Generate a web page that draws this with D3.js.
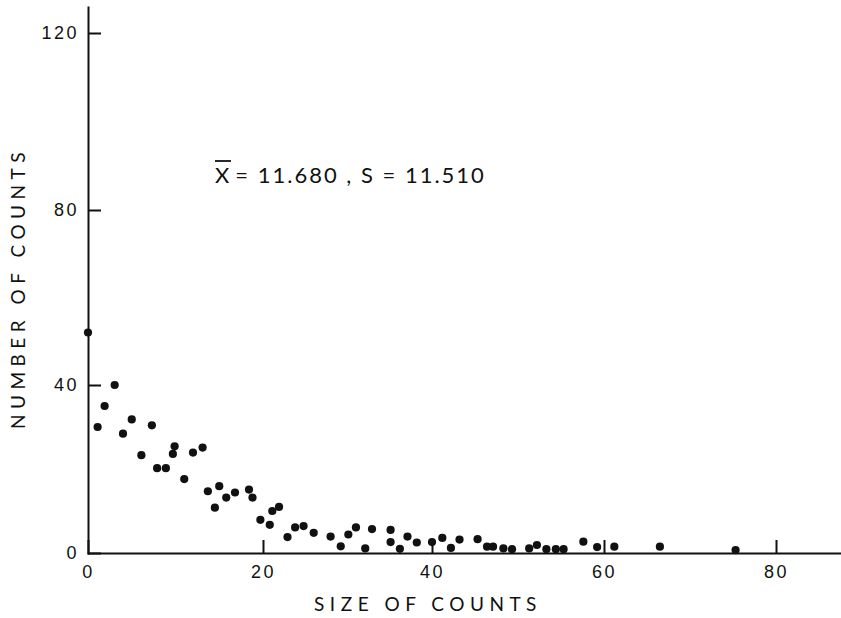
<!DOCTYPE html>
<html>
<head>
<meta charset="utf-8">
<script src="https://cdn.jsdelivr.net/npm/d3@7"></script>
<style>
  html, body { margin: 0; padding: 0; background: #fff; }
  svg { display: block; font-family: Lato, "DejaVu Sans", sans-serif; }
  .axis path, .axis line { stroke: #111; stroke-width: 2; }
  .axis text { font-size: 18px; fill: #111; letter-spacing: 2.5px; }
</style>
</head>
<body>
<svg id="chart" width="841" height="618"></svg>
<script>
// size of counts (x) and number of counts (y)
const sizeOfCounts = [0, 1.1, 1.9, 3.05, 4, 5, 6.1, 7.3, 7.9, 8.9, 9.7, 9.9, 11, 12, 13.1, 13.7, 14.5, 15, 15.8, 16.8,
  18.4, 18.8, 19.7, 20.8, 21.1, 21.9, 22.9, 23.8, 24.8, 26, 28, 29.2, 30.1, 31, 32.1, 32.9, 35.1, 35.1, 36.2, 37.1,
  38.2, 40, 41.2, 42.2, 43.2, 45.3, 46.4, 47.1, 48.3, 49.3, 51.3, 52.2, 53.3, 54.4, 55.3, 57.6, 59.2, 61.2, 66.5, 75.3];
const numberOfCounts = [52, 30, 35, 40, 28.4, 31.8, 23.3, 30.4, 20.2, 20.2, 23.6, 25.4, 17.6, 23.9, 25.1, 14.7, 10.8, 15.9, 13.2, 14.4,
  15.1, 13.2, 7.9, 6.7, 10, 11, 3.8, 6.1, 6.4, 4.8, 3.9, 1.6, 4.4, 6.1, 1.1, 5.7, 5.5, 2.6, 1, 3.9,
  2.5, 2.6, 3.6, 1.2, 3.2, 3.3, 1.5, 1.5, 1.1, 0.9, 1.1, 1.9, 0.9, 0.9, 0.9, 2.7, 1.4, 1.5, 1.5, 0.7];
const xTicks = [0, 20, 40, 60, 80];
const yTicks = [0, 40, 80, 120];
const xLabel = "SIZE OF COUNTS";
const yLabel = "NUMBER OF COUNTS";
const meanText = "X";
const statText = "= 11.680 , S = 11.510";

const svg = d3.select("#chart");

// the hand-drawn paper is not quite even, so the scales follow its tick marks
const xScale = d3.scaleLinear()
  .domain([0, 20, 40, 60, 80, 87.5])
  .range([88, 263, 432, 604, 776, 841]);
const yScale = d3.scaleLinear()
  .domain([0, 40, 80, 120, 126])
  .range([553, 385, 210, 33, 7]);

const xAxis = d3.axisBottom(xScale)
  .tickValues(xTicks)
  .tickSizeInner(-13)
  .tickSizeOuter(0)
  .tickPadding(12);
svg.append("g")
  .attr("class", "axis x-axis")
  .attr("transform", `translate(0,${yScale(0)})`)
  .call(xAxis);

const yAxis = d3.axisLeft(yScale)
  .tickValues(yTicks)
  .tickSizeInner(-13)
  .tickSizeOuter(0)
  .tickPadding(9);
svg.append("g")
  .attr("class", "axis y-axis")
  .attr("transform", `translate(${xScale(0)},0)`)
  .call(yAxis);

svg.selectAll(".axis .domain").attr("stroke-linecap", "square");

// points
svg.selectAll(".dot")
  .data(sizeOfCounts)
  .join("circle")
    .attr("class", "dot")
    .attr("cx", d => xScale(d))
    .attr("cy", (d, i) => yScale(numberOfCounts[i]))
    .attr("r", 4.1)
    .attr("fill", "#111");

// axis titles
svg.append("text")
  .attr("x", 428)
  .attr("y", 611)
  .attr("text-anchor", "middle")
  .style("font-size", "19px")
  .style("letter-spacing", "5.5px")
  .attr("fill", "#111")
  .text(xLabel);

svg.append("text")
  .attr("transform", "translate(25,288) rotate(-90)")
  .attr("text-anchor", "middle")
  .style("font-size", "19px")
  .style("letter-spacing", "5.5px")
  .attr("fill", "#111")
  .text(yLabel);

// mean / sd note
const note = svg.append("text")
  .attr("x", 215)
  .attr("y", 183)
  .style("font-size", "22px")
  .style("letter-spacing", "2px")
  .attr("fill", "#111");
note.append("tspan").text(meanText);
note.append("tspan").attr("dx", 4).text(statText);

svg.append("line")
  .attr("x1", 215).attr("x2", 231)
  .attr("y1", 161).attr("y2", 161)
  .attr("stroke", "#111")
  .attr("stroke-width", 1.8);
</script>
</body>
</html>
